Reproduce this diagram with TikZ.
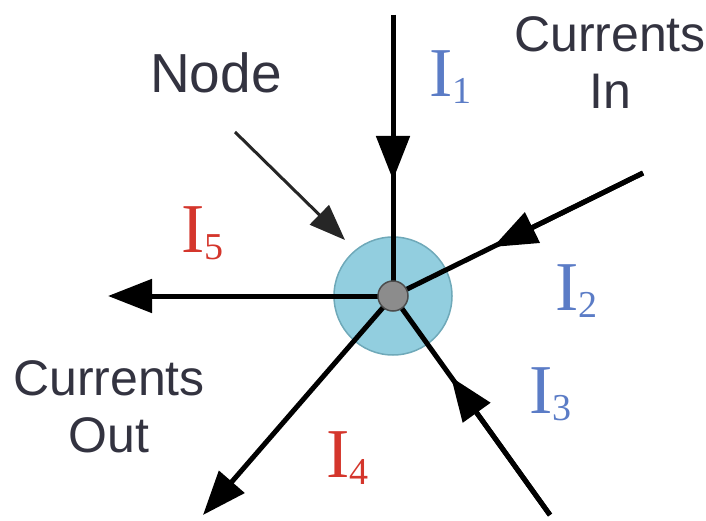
\documentclass[tikz,border=0pt]{standalone}
\usepackage{fontspec}
\setmainfont{Liberation Sans}
\newfontfamily\serifI{Liberation Serif}
\usetikzlibrary{arrows.meta}
\definecolor{txt}{HTML}{333340}
\definecolor{iblue}{HTML}{5B7CC6}
\definecolor{ired}{HTML}{D4362C}
\definecolor{nodefill}{HTML}{92CEDF}
\definecolor{nodeedge}{HTML}{6FA9B9}
\definecolor{hubfill}{HTML}{8C8C8C}
\newcommand{\Ilab}[1]{{\serifI\fontsize{70}{70}\selectfont I}\raisebox{-7pt}{\serifI\fontsize{38}{38}\selectfont #1}}
\tikzset{
  wire/.style={line width=5pt, black},
  arr/.style={wire, -{Triangle[length=44pt,width=33pt]}},
  ptr/.style={line width=3pt, black!85, -{Triangle[length=36pt,width=27pt]}},
  lbl/.style={inner sep=0pt, text=txt, font=\fontsize{55}{57}\selectfont},
  cur/.style={inner sep=0pt, text=txt, align=center, font=\fontsize{50}{57}\selectfont},
  ilab/.style={inner sep=0pt, anchor=base west},
}
\begin{document}
\begin{tikzpicture}[x=1pt,y=-1pt]
\useasboundingbox (0,0) rectangle (706,521);
% junction
\node[circle, minimum size=118pt, inner sep=0pt, fill=nodefill, draw=nodeedge, line width=1.5pt] (big) at (393,296) {};
\coordinate (c) at (393,296);
% end points
\coordinate (s1) at (393,15);
\coordinate (t1) at (393,180);
\coordinate (s2) at (643,173);
\coordinate (t2) at (493,247);
\coordinate (s3) at (550,515);
\coordinate (t3) at (451,377);
\coordinate (e4) at (203,515);
\coordinate (e5) at (108,296);
% wires
\draw[wire] (s1) -- (c);
\draw[arr] (s1) -- (t1);
\draw[wire] (s2) -- (c);
\draw[arr] (s2) -- (t2);
\draw[wire] (s3) -- (c);
\draw[arr] (s3) -- (t3);
\draw[arr] (c) -- (e4);
\draw[arr] (c) -- (e5);
% hub
\node[circle, minimum size=30pt, inner sep=0pt, fill=hubfill, draw=black!70, line width=1.5pt] (hub) at (c) {};
% labels
\node[lbl, anchor=base] (nodelbl) at (216,93) {Node};
\coordinate (p0) at (235,132);
\coordinate (p1) at (345,240);
\draw[ptr] (p0) -- (p1);
\node[cur] (curin) at (610,63) {Currents\\In};
\node[cur] (curout) at (109,407) {Currents\\Out};
\node[ilab, text=iblue] (l1) at (429,97) {\Ilab{1}};
\node[ilab, text=iblue] (l2) at (555,310) {\Ilab{2}};
\node[ilab, text=iblue] (l3) at (529,413) {\Ilab{3}};
\node[ilab, text=ired] (l4) at (326,477) {\Ilab{4}};
\node[ilab, text=ired] (l5) at (181,252) {\Ilab{5}};
\end{tikzpicture}
\end{document}
